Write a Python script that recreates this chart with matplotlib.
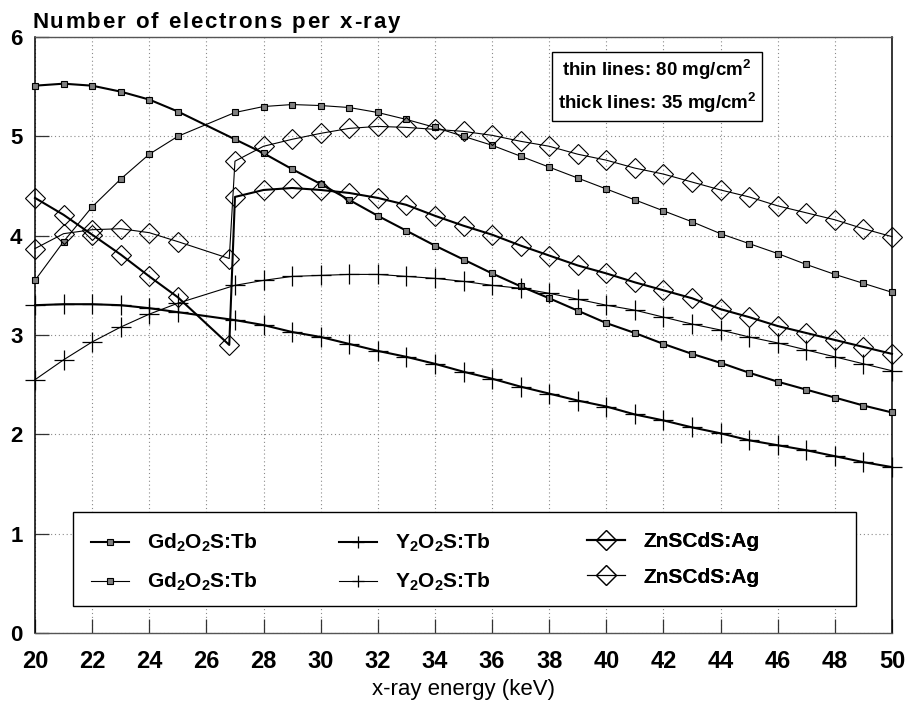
import matplotlib
matplotlib.use("Agg")
import matplotlib.pyplot as plt
from matplotlib.lines import Line2D
from matplotlib.patches import Rectangle

plt.rcParams['font.family'] = ['Liberation Sans', 'DejaVu Sans']
plt.rcParams['mathtext.fontset'] = 'custom'
plt.rcParams['mathtext.rm'] = 'Liberation Sans:bold'
plt.rcParams['mathtext.it'] = 'Liberation Sans:bold:italic'
plt.rcParams['mathtext.bf'] = 'Liberation Sans:bold'

# x-ray energies (keV); the ZnSCdS curves carry an extra point just below the Cd K-edge
energy = [20, 21, 22, 23, 24, 25] + list(range(27, 51))
energy_zn = [20, 21, 22, 23, 24, 25, 26.8] + list(range(27, 51))

# electrons per absorbed x-ray, 35 mg/cm2 screens (thick lines)
gd_35 = [5.51, 5.53, 5.51, 5.45, 5.37, 5.25, 4.97, 4.83, 4.67, 4.52, 4.36, 4.20,
         4.05, 3.90, 3.76, 3.62, 3.49, 3.37, 3.245, 3.12, 3.02, 2.91, 2.81, 2.72,
         2.62, 2.53, 2.45, 2.37, 2.29, 2.22]
y_35 = [3.30, 3.31, 3.31, 3.30, 3.27, 3.23, 3.15, 3.10, 3.03, 2.98, 2.91, 2.84,
        2.78, 2.71, 2.63, 2.56, 2.48, 2.41, 2.34, 2.28, 2.20, 2.14, 2.07, 2.01,
        1.94, 1.89, 1.84, 1.78, 1.72, 1.67]
zn_35 = [4.38, 4.21, 4.01, 3.81, 3.59, 3.38, 2.90, 4.39, 4.46, 4.48, 4.46, 4.43,
         4.38, 4.31, 4.20, 4.10, 4.01, 3.90, 3.80, 3.70, 3.62, 3.53, 3.45, 3.37,
         3.26, 3.18, 3.09, 3.02, 2.95, 2.88, 2.81]

# electrons per absorbed x-ray, 80 mg/cm2 screens (thin lines)
gd_80 = [3.55, 3.94, 4.29, 4.57, 4.82, 5.00, 5.24, 5.30, 5.32, 5.31, 5.29, 5.24,
         5.17, 5.09, 5.00, 4.91, 4.80, 4.69, 4.58, 4.47, 4.36, 4.25, 4.14, 4.02,
         3.92, 3.82, 3.71, 3.61, 3.52, 3.43]
y_80 = [2.55, 2.75, 2.93, 3.08, 3.21, 3.32, 3.50, 3.55, 3.59, 3.60, 3.61, 3.61,
        3.59, 3.57, 3.54, 3.50, 3.47, 3.42, 3.36, 3.30, 3.25, 3.18, 3.11, 3.05,
        2.98, 2.92, 2.85, 2.78, 2.71, 2.64]
zn_80 = [3.87, 4.02, 4.06, 4.07, 4.03, 3.94, 3.77, 4.75, 4.90, 4.97, 5.03, 5.08,
         5.10, 5.09, 5.07, 5.05, 5.01, 4.95, 4.90, 4.82, 4.76, 4.68, 4.62, 4.54,
         4.46, 4.39, 4.30, 4.23, 4.16, 4.07, 3.99]

gd_label = r'Gd$_2$O$_2$S:Tb'
y_label = r'Y$_2$O$_2$S:Tb'
zn_label = 'ZnSCdS:Ag'
title = 'Number of electrons per x-ray'

x_ticks = list(range(20, 51, 2))
y_ticks = [0, 1, 2, 3, 4, 5, 6]

W, H = 909, 705
fig = plt.figure(figsize=(W / 100, H / 100), dpi=100)
ax = fig.add_axes([35 / W, 1 - 633 / H, (892 - 35) / W, (633 - 37) / H])

THICK, THIN = 1.5, 0.8
sq = dict(marker='s', ms=4.5, mfc='#808080', mec='black', mew=0.8)
plus = dict(marker='+', ms=14, mew=0.9)
dia = dict(marker='D', ms=10, fillstyle='none', mew=0.8)

ax.plot(energy, gd_35, color='black', lw=THICK, clip_on=False, zorder=4, **sq)
ax.plot(energy, gd_80, color='black', lw=THIN, clip_on=False, zorder=4, **sq)
ax.plot(energy, y_35, color='black', lw=THICK, clip_on=False, zorder=4, **plus)
ax.plot(energy, y_80, color='black', lw=THIN, clip_on=False, zorder=4, **plus)
ax.plot(energy_zn, zn_35, color='black', lw=THICK, clip_on=False, zorder=4, **dia)
ax.plot(energy_zn, zn_80, color='black', lw=THIN, clip_on=False, zorder=4, **dia)

ax.set_xlim(20, 50)
ax.set_ylim(0, 6)
ax.set_xticks(x_ticks)
ax.set_yticks(y_ticks)
ax.tick_params(axis='both', direction='in', length=10, width=0.9, color='#333333')
ax.tick_params(axis='x', labelsize=17, pad=12)
ax.tick_params(axis='y', labelsize=16, pad=9)
for t in ax.get_yticklabels() + ax.get_xticklabels():
    t.set_fontweight('bold')
ax.grid(True, linestyle=(0, (1, 2.5)), color='#8a8a8a', lw=0.8)
ax.set_axisbelow(True)
for side in ('left', 'right'):
    ax.spines[side].set_color('black')
    ax.spines[side].set_linewidth(1.1)
for side in ('top', 'bottom'):
    ax.spines[side].set_color('#555555')
    ax.spines[side].set_linewidth(1.0)

# letter-spaced title: characters laid out one by one across a fixed width
renderer = fig.canvas.get_renderer()
title_kw = dict(fontsize=16, fontweight='bold', ha='left', va='baseline')


def text_width(s):
    t = fig.text(0, 0, s, **title_kw)
    w = t.get_window_extent(renderer).width
    t.remove()
    return w


x0, x1, base = 32, 400, 28
bar_w = text_width('|')
track = (x1 - x0 - text_width(title)) / (len(title) - 1)
for i, ch in enumerate(title):
    adv = text_width(title[:i] + '|') - bar_w if i else 0
    if ch != ' ':
        fig.text((x0 + adv + i * track) / W, 1 - base / H, ch, **title_kw)

fig.text(463 / W, 1 - 690 / H, 'x-ray energy (keV)', fontsize=16,
         ha='center', va='center')

# box behind the legend, hiding the grid
ax.add_patch(Rectangle(((73 - 35) / 857, (633 - 606) / 596), (856 - 73) / 857,
                       (606 - 512) / 596, transform=ax.transAxes,
                       facecolor='white', edgecolor='black', lw=1.0, zorder=3))

columns = [
    ([Line2D([], [], color='black', lw=THICK, **sq),
      Line2D([], [], color='black', lw=THIN, **sq)], [gd_label, gd_label], 91),
    ([Line2D([], [], color='black', lw=THICK, marker='+', ms=9, mew=0.9),
      Line2D([], [], color='black', lw=THIN, marker='+', ms=9, mew=0.9)], [y_label, y_label], 339),
    ([Line2D([], [], color='black', lw=THICK, **dia),
      Line2D([], [], color='black', lw=THIN, **dia)], [zn_label, zn_label], 587),
]
for hs, ls, px in columns:
    leg = ax.legend(hs, ls, loc='upper left',
                    bbox_to_anchor=((px - 35) / 857, (633 - 532) / 596),
                    frameon=False, numpoints=1, handlelength=1.8,
                    prop=dict(size=15, weight='bold'),
                    handletextpad=0.9, labelspacing=0.8, borderpad=0, borderaxespad=0)
    leg.set_zorder(5)
    ax.add_artist(leg)

ax.text((657 - 35) / 857, (633 - 86.5) / 596,
        'thin lines: 80 mg/cm$^\\mathbf{2}$\nthick lines: 35 mg/cm$^\\mathbf{2}$',
        transform=ax.transAxes, ha='center', va='center', fontsize=13.5,
        fontweight='bold', multialignment='center', linespacing=1.5, zorder=6,
        bbox=dict(boxstyle='square,pad=0.3', facecolor='white', edgecolor='black', lw=1.0))

fig.savefig('out.png', dpi=100)
